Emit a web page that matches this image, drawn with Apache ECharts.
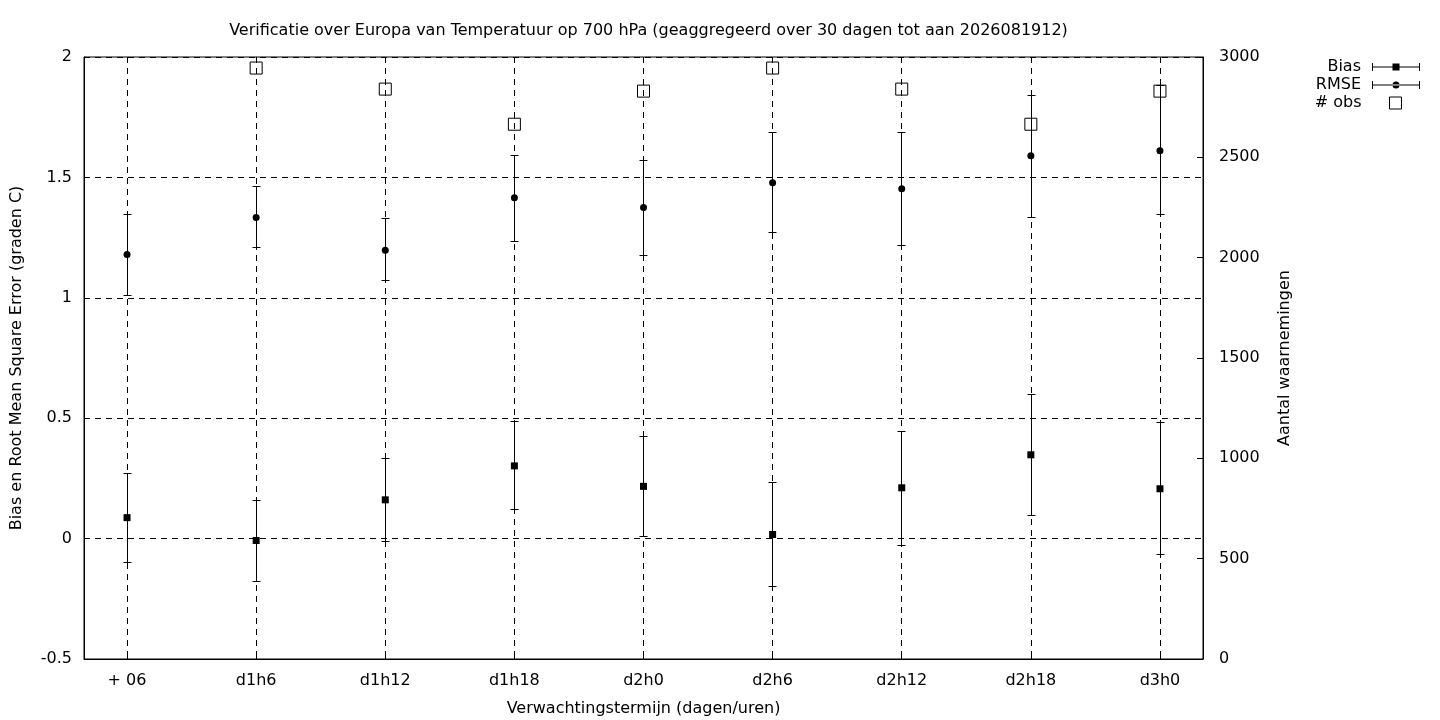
<!DOCTYPE html>
<html>
<head>
<meta charset="utf-8">
<script src="https://cdn.jsdelivr.net/npm/echarts@6/dist/echarts.min.js"></script>
<style>
html,body{margin:0;padding:0;background:#fff;}
#chart{width:1440px;height:720px;}
</style>
</head>
<body>
<div id="chart"></div>
<script>
const categories = ['+ 06','d1h6','d1h12','d1h18','d2h0','d2h6','d2h12','d2h18','d3h0'];
const biasValues = [0.087,-0.008,0.161,0.302,0.217,0.017,0.211,0.348,0.207];
const biasLow    = [-0.099,-0.178,-0.012,0.120,0.008,-0.199,-0.028,0.095,-0.065];
const biasHigh   = [0.270,0.159,0.335,0.486,0.427,0.236,0.447,0.598,0.482];
const rmseValues = [1.180,1.333,1.197,1.416,1.375,1.478,1.453,1.590,1.611];
const rmseLow    = [1.009,1.209,1.071,1.234,1.176,1.271,1.217,1.333,1.346];
const rmseHigh   = [1.347,1.462,1.329,1.594,1.573,1.689,1.689,1.843,1.882];
const obsValues  = [null,2945,2840,2665,2830,2945,2840,2665,2830];
const leftTicks = [-0.5,0,0.5,1,1.5,2];
const rightTicks = [0,500,1000,1500,2000,2500,3000];

const FONT = 'DejaVu Sans';
const FS = 16;
const idx = categories.map((c,i)=>i);

// same rounding as zrender's subPixelOptimize for 1px lines
function crisp(v){
  const d = Math.round(v*2);
  return (d + 1) % 2 === 0 ? d/2 : (d + 1)/2;
}

function errRender(params, api){
  const x = api.value(0), lo = api.value(1), hi = api.value(2);
  const p1 = api.coord([x, lo]), p2 = api.coord([x, hi]);
  const cx = crisp(p1[0]);
  const y1 = crisp(p1[1]), y2 = crisp(p2[1]);
  const w = 4;
  const st = {stroke:'#000', lineWidth:1};
  return {type:'group', children:[
    {type:'line', shape:{x1:cx,y1:y1,x2:cx,y2:y2}, style:st},
    {type:'line', shape:{x1:cx-w,y1:y1,x2:cx+w,y2:y1}, style:st},
    {type:'line', shape:{x1:cx-w,y1:y2,x2:cx+w,y2:y2}, style:st}
  ]};
}

const errIconBias = 'path://M0,3.5H48V4.5H0Z M0,0H1V8H0Z M47,0H48V8H47Z M20.5,0.5H27.5V7.5H20.5Z';
const errIconRmse = 'path://M0,3.5H48V4.5H0Z M0,0H1V8H0Z M47,0H48V8H47Z M20.5,4A3.5,3.5 0 1,0 27.5,4A3.5,3.5 0 1,0 20.5,4Z';

const legendText = (pad)=>({fontFamily:FONT, fontSize:FS, color:'#000', padding:[0,pad,0,0]});

const chart = echarts.init(document.getElementById('chart'), null, {renderer:'canvas'});
chart.setOption({
  animation:false,
  backgroundColor:'#fff',
  textStyle:{fontFamily:FONT, color:'#000'},
  title:{
    text:'Verificatie over Europa van Temperatuur op 700 hPa (geaggregeerd over 30 dagen tot aan 2026081912)',
    left:643.5, top:18, textAlign:'center',
    textStyle:{fontFamily:FONT, fontSize:FS, fontWeight:'normal', color:'#000'}
  },
  legend:[
    {data:[{name:'Bias', icon:errIconBias}], right:20, top:59, padding:0, itemWidth:48, itemHeight:8, align:'right',
     selectedMode:false, textStyle:legendText(6)},
    {data:[{name:'RMSE', icon:errIconRmse}], right:20, top:77, padding:0, itemWidth:48, itemHeight:8, align:'right',
     selectedMode:false, textStyle:legendText(6)},
    {data:[{name:'# obs', icon:'rect', itemStyle:{color:'transparent', borderColor:'#000', borderWidth:1}}],
     right:38, top:95, padding:0, itemWidth:12, itemHeight:12, align:'right',
     selectedMode:false, textStyle:legendText(23)}
  ],
  grid:{left:84, right:237, top:57, bottom:61, show:true, borderColor:'#000', borderWidth:1,
        backgroundColor:'transparent', containLabel:false, outerBoundsMode:'none'},
  xAxis:{
    type:'value', min:-1/3, max:8+1/3,
    name:'Verwachtingstermijn (dagen/uren)', nameLocation:'middle', nameGap:42,
    nameTextStyle:{fontFamily:FONT, fontSize:FS, color:'#000'},
    axisLine:{show:true, onZero:false, lineStyle:{color:'#000', width:1}},
    axisTick:{show:true, inside:true, length:6, customValues:idx, lineStyle:{color:'#000'}},
    axisLabel:{customValues:idx, margin:14, fontFamily:FONT, fontSize:FS, color:'#000',
      formatter:(v)=>categories[Math.round(v)] ?? ''},
    splitLine:{show:true, lineStyle:{color:'#000', width:1, type:[6,5]}}
  },
  yAxis:[
    {type:'value', min:leftTicks[0], max:leftTicks[leftTicks.length-1], interval:0.5, position:'left',
     name:'Bias en Root Mean Square Error (graden C)', nameLocation:'middle', nameGap:59, nameRotate:90,
     nameTextStyle:{fontFamily:FONT, fontSize:FS, color:'#000'},
     axisLine:{show:true, onZero:false, lineStyle:{color:'#000'}},
     axisTick:{show:true, inside:true, length:6, lineStyle:{color:'#000'}},
     axisLabel:{margin:12, padding:[2,0,0,0], fontFamily:FONT, fontSize:FS, color:'#000', formatter:(v)=>String(v)},
     splitLine:{show:true, lineStyle:{color:'#000', width:1, type:[6,5]}}},
    {type:'value', min:rightTicks[0], max:rightTicks[rightTicks.length-1], interval:500, position:'right',
     name:'Aantal waarnemingen', nameLocation:'middle', nameGap:74, nameRotate:90,
     nameTextStyle:{fontFamily:FONT, fontSize:FS, color:'#000'},
     axisLine:{show:true, onZero:false, lineStyle:{color:'#000'}},
     axisTick:{show:true, inside:true, length:6, lineStyle:{color:'#000'}},
     axisLabel:{margin:16, padding:[2,0,0,0], fontFamily:FONT, fontSize:FS, color:'#000', formatter:(v)=>String(v)},
     splitLine:{show:false}}
  ],
  series:[
    {name:'Bias', type:'scatter', yAxisIndex:0, symbol:'rect', symbolSize:7,
     itemStyle:{color:'#000', opacity:1}, z:5,
     data: idx.map(i=>[i, biasValues[i]])},
    {name:'Bias', type:'custom', yAxisIndex:0, renderItem:errRender, itemStyle:{color:'#000'}, z:4,
     data: idx.map(i=>[i, biasLow[i], biasHigh[i]])},
    {name:'RMSE', type:'scatter', yAxisIndex:0, symbol:'circle', symbolSize:7,
     itemStyle:{color:'#000', opacity:1}, z:5,
     data: idx.map(i=>[i, rmseValues[i]])},
    {name:'RMSE', type:'custom', yAxisIndex:0, renderItem:errRender, itemStyle:{color:'#000'}, z:4,
     data: idx.map(i=>[i, rmseLow[i], rmseHigh[i]])},
    {name:'# obs', type:'scatter', yAxisIndex:1, symbol:'rect', symbolSize:12,
     itemStyle:{color:'transparent', borderColor:'#000', borderWidth:1, opacity:1}, z:5,
     data: idx.filter(i=>obsValues[i]!==null).map(i=>[i, obsValues[i]])}
  ]
});
</script>
</body>
</html>
